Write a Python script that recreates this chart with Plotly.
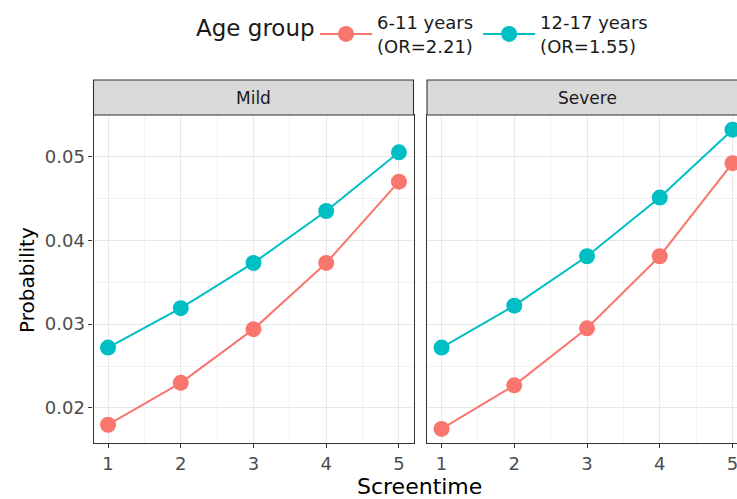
import plotly.graph_objects as go

screentime = [1, 2, 3, 4, 5]
panels = ["Mild", "Severe"]
legend_title = "Age group"
group_names = ["6-11 years<br>(OR=2.21)", "12-17 years<br>(OR=1.55)"]
group_colors = ["#F8766D", "#00BFC4"]

mild_6_11 = [0.0180, 0.0230, 0.0294, 0.0373, 0.0470]
mild_12_17 = [0.0272, 0.0319, 0.0373, 0.0435, 0.0505]
severe_6_11 = [0.0175, 0.0227, 0.0295, 0.0381, 0.0492]
severe_12_17 = [0.0272, 0.0322, 0.0381, 0.0451, 0.0532]

y_ticks = [0.02, 0.03, 0.04, 0.05]
y_tick_labels = ["0.02", "0.03", "0.04", "0.05"]

W, H = 737, 499
FONT = "DejaVu Sans"

fig = go.Figure()
series = [(mild_6_11, mild_12_17), (severe_6_11, severe_12_17)]
for pi, (s1, s2) in enumerate(series):
    xa = "x" if pi == 0 else "x2"
    ya = "y" if pi == 0 else "y2"
    for gi, vals in enumerate([s1, s2]):
        fig.add_trace(go.Scatter(
            x=screentime, y=vals, mode="lines+markers",
            name=group_names[gi], legendgroup=str(gi), showlegend=(pi == 0),
            line=dict(color=group_colors[gi], width=2),
            marker=dict(color=group_colors[gi], size=16),
            xaxis=xa, yaxis=ya,
        ))

def px_x(p):
    return p / W

def px_y(p):
    return (H - p) / H

left_dom = [px_x(93.5), px_x(413.5)]
right_dom = [px_x(427), 1.0]
y_dom = [px_y(443), px_y(115)]

grid_major = "#E8E8E8"
grid_minor = "#F2F2F2"
axcol = "#333333"
tickfont = dict(family=FONT, size=18, color="#4D4D4D")

common_x = dict(
    tickvals=screentime, ticktext=[str(v) for v in screentime],
    showgrid=True, gridcolor=grid_major, gridwidth=1.2,
    minor=dict(dtick=0.5, tick0=0.5, showgrid=True, gridcolor=grid_minor, gridwidth=0.8),
    ticks="outside", ticklen=4, tickwidth=1.1, tickcolor=axcol,
    showline=True, linecolor=axcol, linewidth=1.1, mirror=True,
    zeroline=False, tickfont=tickfont, ticklabeloverflow="allow",
)
common_y = dict(
    range=[0.01582, 0.05495],
    tickvals=y_ticks, ticktext=y_tick_labels,
    showgrid=True, gridcolor=grid_major, gridwidth=1.2,
    minor=dict(dtick=0.005, tick0=0.005, showgrid=True, gridcolor=grid_minor, gridwidth=0.8),
    showline=True, linecolor=axcol, linewidth=1.1,
    zeroline=False, tickfont=tickfont, domain=y_dom,
)

fig.update_layout(
    width=W, height=H,
    margin=dict(l=0, r=0, t=0, b=0),
    paper_bgcolor="white", plot_bgcolor="white",
    font=dict(family=FONT, color="#1A1A1A"),
    xaxis=dict(common_x, domain=left_dom, range=[0.8, 5.2], anchor="y"),
    xaxis2=dict(common_x, domain=right_dom, range=[0.8, 5.062], anchor="y2"),
    yaxis=dict(common_y, anchor="x", ticks="outside", ticklen=4, tickwidth=1.1,
               tickcolor=axcol, mirror=True),
    yaxis2=dict(common_y, anchor="x2", showticklabels=False, ticks="", mirror=False),
    legend=dict(
        orientation="h", x=px_x(315), y=px_y(4), xanchor="left", yanchor="top",
        font=dict(family=FONT, size=18, color="#1A1A1A"),
        itemwidth=52, bgcolor="rgba(0,0,0,0)",
    ),
)

# legend title
fig.add_annotation(text=legend_title, xref="paper", yref="paper", x=px_x(194), y=px_y(28),
                   showarrow=False, xanchor="left", yanchor="middle",
                   font=dict(family=FONT, size=23, color="#1A1A1A"))

# facet strips
for i, dom in enumerate([left_dom, right_dom]):
    x1 = dom[1] if i == 0 else 1.01
    fig.add_shape(type="rect", xref="paper", yref="paper",
                  x0=dom[0], x1=x1, y0=px_y(115), y1=px_y(80),
                  fillcolor="#D9D9D9", line=dict(color=axcol, width=1.1), layer="above")
    fig.add_annotation(text=panels[i], xref="paper", yref="paper",
                       x=(dom[0] + (dom[1] if i == 0 else px_x(427 + 320))) / 2,
                       y=px_y(97.5), showarrow=False, xanchor="center", yanchor="middle",
                       font=dict(family=FONT, size=17, color="#1A1A1A"))

# axis titles
fig.add_annotation(text="Screentime", xref="paper", yref="paper", x=px_x(420), y=px_y(486),
                   showarrow=False, xanchor="center", yanchor="middle",
                   font=dict(family=FONT, size=22, color="#000000"))
fig.add_annotation(text="Probability", xref="paper", yref="paper", x=px_x(27), y=px_y(280),
                   showarrow=False, xanchor="center", yanchor="middle", textangle=-90,
                   font=dict(family=FONT, size=20, color="#000000"))

fig.write_html("out.html", config={"displayModeBar": False},
               post_script="document.body.style.margin='0';document.body.style.overflow='hidden';")
